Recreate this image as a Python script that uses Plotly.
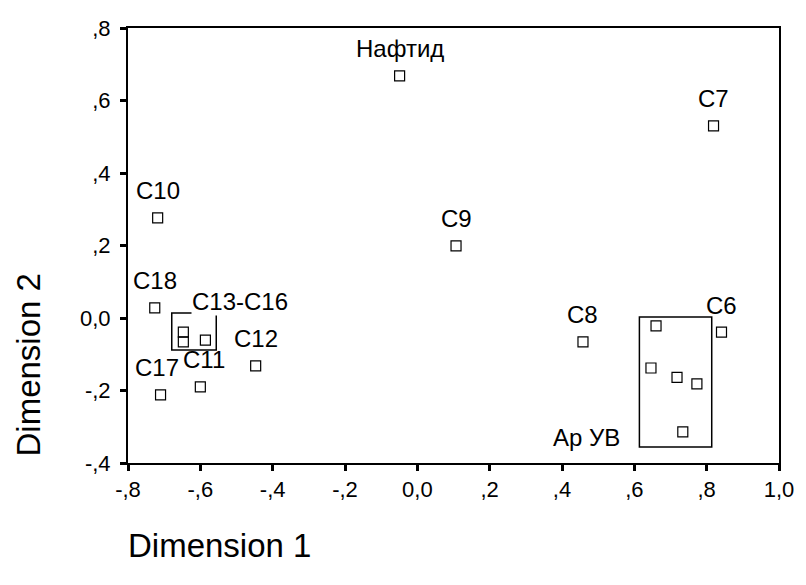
import plotly.graph_objects as go

# Point labels and coordinates (Dimension 1, Dimension 2)
labels = ["Нафтид", "C7", "C10", "C9", "C18", "C12", "C11", "C17", "C8", "C6"]
dim1 = [-0.049, 0.819, -0.718, 0.107, -0.726, -0.447, -0.600, -0.710, 0.458, 0.841]
dim2 = [0.668, 0.530, 0.276, 0.199, 0.028, -0.132, -0.190, -0.212, -0.066, -0.039]
# small horizontal nudges (px) for crowded labels
label_dx = [0, 0, 0, 0, 0, 0, 4, -4, 0, 0]

# Unlabelled points inside the C13-C16 group
grp1_x = [-0.647, -0.647, -0.586]
grp1_y = [-0.039, -0.066, -0.061]

# Unlabelled points inside the "Ар УВ" group
grp2_x = [0.660, 0.646, 0.718, 0.773, 0.734]
grp2_y = [-0.022, -0.138, -0.164, -0.182, -0.314]

# Group boxes: [x0, x1, y0, y1]
box1 = [-0.679, -0.556, -0.088, 0.014]
box2 = [0.614, 0.814, -0.356, 0.003]
box_labels = ["C13-C16", "Ар УВ"]

xticks = [-0.8, -0.6, -0.4, -0.2, 0.0, 0.2, 0.4, 0.6, 0.8, 1.0]
xtick_text = ["-,8", "-,6", "-,4", "-,2", "0,0", ",2", ",4", ",6", ",8", "1,0"]
yticks = [-0.4, -0.2, 0.0, 0.2, 0.4, 0.6, 0.8]
ytick_text = ["-,4", "-,2", "0,0", ",2", ",4", ",6", ",8"]

FONT = "Liberation Sans, Arial, sans-serif"
LBL = 24
marker = dict(symbol="square-open", size=10, color="black", line=dict(width=1.2))

fig = go.Figure()
fig.add_trace(go.Scatter(x=dim1 + grp1_x + grp2_x, y=dim2 + grp1_y + grp2_y,
                         mode="markers", marker=marker, hoverinfo="skip",
                         showlegend=False))

# Boxes
for b in (box1, box2):
    fig.add_shape(type="rect", x0=b[0], x1=b[1], y0=b[2], y1=b[3],
                  line=dict(color="black", width=1.5), layer="above")

annotations = []
for lx, ly, lt, dx in zip(dim1, dim2, labels, label_dx):
    annotations.append(dict(x=lx, y=ly, text=lt, showarrow=False,
                            xanchor="center", yanchor="middle", yshift=27, xshift=dx,
                            font=dict(family=FONT, size=LBL, color="black")))
# group labels
annotations.append(dict(x=box1[0], y=box1[3], text=box_labels[0], showarrow=False,
                        xanchor="left", yanchor="middle", xshift=19, yshift=11,
                        bgcolor="white", borderpad=0,
                        font=dict(family=FONT, size=LBL, color="black")))
annotations.append(dict(x=box2[0], y=box2[2], text=box_labels[1], showarrow=False,
                        xanchor="right", yanchor="middle", xshift=-17, yshift=10,
                        font=dict(family=FONT, size=LBL, color="black")))
# axis titles
annotations.append(dict(x=0, y=0, xref="paper", yref="paper", text="Dimension 1",
                        showarrow=False, xanchor="left", yanchor="middle",
                        xshift=-2, yshift=-82, font=dict(family=FONT, size=33, color="black")))
annotations.append(dict(x=0, y=0.5, xref="paper", yref="paper", text="Dimension 2",
                        showarrow=False, xanchor="center", yanchor="middle",
                        xshift=-100, yshift=-120, textangle=-90,
                        font=dict(family=FONT, size=33, color="black")))

fig.update_layout(
    width=806, height=585,
    margin=dict(l=128, r=21, t=28, b=122),
    plot_bgcolor="white", paper_bgcolor="white",
    annotations=annotations,
    xaxis=dict(range=[-0.8, 1.0], tickvals=xticks, ticktext=xtick_text,
               showgrid=False, zeroline=False, showline=True, linecolor="black",
               linewidth=2, mirror=True, ticks="outside", ticklen=6, tickwidth=3,
               tickcolor="black", ticklabelstandoff=0,
               tickfont=dict(family=FONT, size=22, color="black")),
    yaxis=dict(range=[-0.4, 0.8], tickvals=yticks, ticktext=ytick_text,
               showgrid=False, zeroline=False, showline=True, linecolor="black",
               linewidth=2, mirror=True, ticks="outside", ticklen=6, tickwidth=3,
               tickcolor="black", ticklabelstandoff=5,
               tickfont=dict(family=FONT, size=22, color="black")),
)

# remove the default page margin so the figure fills the window exactly
fig.write_html("out.html", config={"displayModeBar": False},
               post_script="document.body.style.margin='0';document.body.style.overflow='hidden';")
